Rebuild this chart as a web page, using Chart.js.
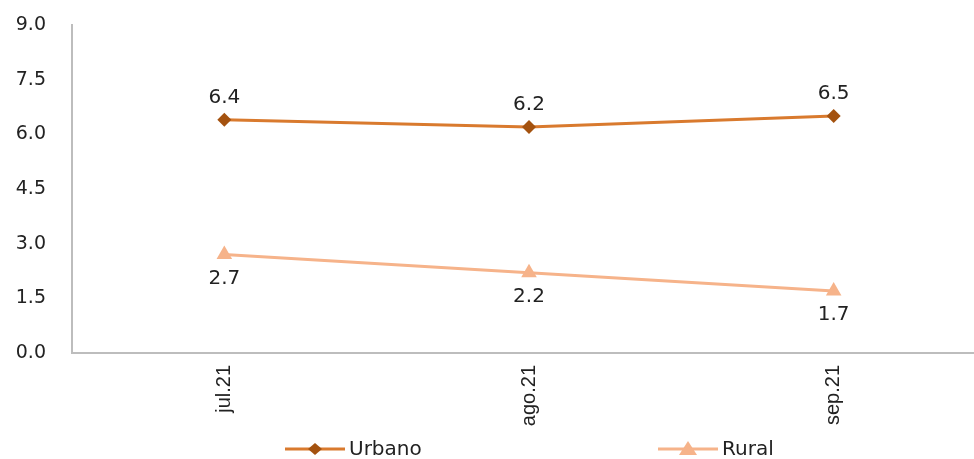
<!DOCTYPE html>
<html>
<head>
<meta charset="utf-8">
<script src="https://cdn.jsdelivr.net/npm/chart.js@4"></script>
<style>
    html, body { margin: 0; padding: 0; background: #fff; overflow: hidden; }
    #wrap { width: 995px; height: 459px; }
</style>
</head>
<body>
<div id="wrap"><canvas id="chart"></canvas></div>
<script>
// Données du graphique
const categories = ['jul.21', 'ago.21', 'sep.21'];
const urbano = [6.4, 6.2, 6.5];
const rural = [2.7, 2.2, 1.7];
const yTicks = [0, 1.5, 3, 4.5, 6, 7.5, 9];

const URBANO_LINE = '#D97A2E';
const URBANO_MARK = '#A4520F';
const RURAL_COLOR = '#F6B38A';
const TEXT_FONT = '"DejaVu Sans", Arial, sans-serif';

// Étiquettes de valeurs
const valueLabels = {
    id: 'valueLabels',
    afterDatasetsDraw(chart) {
        const ctx = chart.ctx;
        ctx.save();
        ctx.font = '20px ' + TEXT_FONT;
        ctx.fillStyle = '#222';
        ctx.textAlign = 'center';
        ctx.textBaseline = 'middle';
        chart.data.datasets.forEach((ds, i) => {
            const meta = chart.getDatasetMeta(i);
            meta.data.forEach((pt, j) => {
                const dy = ds.labelPos === 'above' ? -22 : 24;
                ctx.fillText(ds.data[j].toFixed(1), pt.x, pt.y + dy);
            });
        });
        ctx.restore();
    }
};

// Légende dessinée à la main (trait + marqueur)
const lineLegend = {
    id: 'lineLegend',
    afterDraw(chart) {
        const ctx = chart.ctx;
        const y = 449;
        const items = [
            { text: 'Urbano', cx: 315, line: URBANO_LINE, mark: URBANO_MARK, shape: 'diamond' },
            { text: 'Rural', cx: 688, line: RURAL_COLOR, mark: RURAL_COLOR, shape: 'triangle' }
        ];
        ctx.save();
        items.forEach(it => {
            ctx.strokeStyle = it.line;
            ctx.lineWidth = 3;
            ctx.beginPath();
            ctx.moveTo(it.cx - 30, y);
            ctx.lineTo(it.cx + 30, y);
            ctx.stroke();
            ctx.fillStyle = it.mark;
            ctx.beginPath();
            if (it.shape === 'diamond') {
                ctx.moveTo(it.cx, y - 6); ctx.lineTo(it.cx + 7, y); ctx.lineTo(it.cx, y + 6); ctx.lineTo(it.cx - 7, y);
            } else {
                ctx.moveTo(it.cx, y - 8); ctx.lineTo(it.cx + 9, y + 6); ctx.lineTo(it.cx - 9, y + 6);
            }
            ctx.closePath();
            ctx.fill();
            ctx.fillStyle = '#222';
            ctx.font = '20px ' + TEXT_FONT;
            ctx.textAlign = 'left';
            ctx.textBaseline = 'middle';
            ctx.fillText(it.text, it.cx + 34, y + 1);
        });
        ctx.restore();
    }
};

new Chart(document.getElementById('chart'), {
    type: 'line',
    data: {
        labels: categories,
        datasets: [
            {
                label: 'Urbano',
                data: urbano,
                labelPos: 'above',
                borderColor: URBANO_LINE,
                backgroundColor: URBANO_MARK,
                borderWidth: 3,
                pointStyle: 'rectRot',
                pointRadius: 7,
                pointBorderWidth: 0,
                pointBackgroundColor: URBANO_MARK,
                tension: 0
            },
            {
                label: 'Rural',
                data: rural,
                labelPos: 'below',
                borderColor: RURAL_COLOR,
                backgroundColor: RURAL_COLOR,
                borderWidth: 3,
                pointStyle: 'triangle',
                pointRadius: 9,
                pointBorderWidth: 0,
                pointBackgroundColor: RURAL_COLOR,
                tension: 0
            }
        ]
    },
    options: {
        responsive: true,
        maintainAspectRatio: false,
        animation: false,
        layout: { padding: 0 },
        plugins: {
            tooltip: { enabled: false },
            legend: { display: false }
        },
        scales: {
            x: {
                offset: true,
                grid: { display: false, drawTicks: false },
                border: { display: true, color: '#BDBDBD', width: 2 },
                afterFit(scale) {
                    scale.height = 106;
                },
                ticks: {
                    minRotation: 90,
                    maxRotation: 90,
                    padding: 12,
                    color: '#222',
                    font: { size: 20, family: '"Liberation Sans Narrow", "Liberation Sans", Arial, sans-serif' }
                }
            },
            y: {
                min: 0,
                max: 9,
                afterBuildTicks(scale) {
                    scale.ticks = yTicks.map(v => ({ value: v }));
                },
                afterFit(scale) {
                    scale.width = 72;
                    scale.paddingTop = 25;
                    scale.paddingBottom = 0;
                },
                grid: { display: false, drawTicks: false },
                border: { display: true, color: '#BDBDBD', width: 2 },
                ticks: {
                    padding: 26,
                    color: '#222',
                    font: { size: 19, family: TEXT_FONT },
                    callback: v => v.toFixed(1)
                }
            }
        }
    },
    plugins: [valueLabels, lineLegend]
});
</script>
</body>
</html>
